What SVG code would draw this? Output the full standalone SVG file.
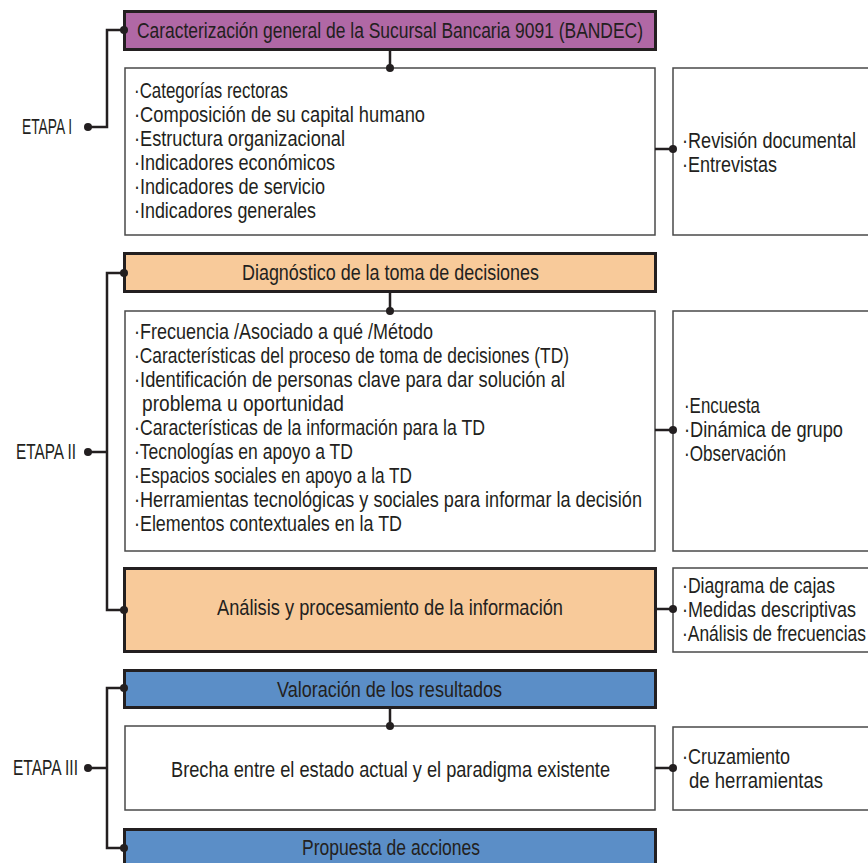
<svg xmlns="http://www.w3.org/2000/svg" width="868" height="863" viewBox="0 0 868 863">
<style>
text{font-family:"Liberation Sans",Arial,sans-serif;font-size:21.5px;fill:#231f20}
.h{stroke:#231f20;stroke-width:3}
.b{fill:#fff;stroke:#4a4a4a;stroke-width:1.5}
.p{fill:#b068a5}.o{fill:#f8ca9a}.u{fill:#5b8ec7}
.c{fill:none;stroke:#231f20;stroke-width:2.5}
.d{fill:#231f20}
</style>
<rect width="868" height="863" fill="#fff"/>
<g id="etapa1"><text x="22" y="134" textLength="50" lengthAdjust="spacingAndGlyphs">ETAPA I</text></g>
<g id="etapa2"><text x="16" y="459" textLength="60" lengthAdjust="spacingAndGlyphs">ETAPA II</text></g>
<g id="etapa3"><text x="13" y="775" textLength="65" lengthAdjust="spacingAndGlyphs">ETAPA III</text></g>
<g id="n1"><rect class="h p" x="124.5" y="11.5" width="531" height="38"/>
<text x="137" y="38" textLength="506" lengthAdjust="spacingAndGlyphs">Caracterización general de la Sucursal Bancaria 9091 (BANDEC)</text></g>
<g id="n2"><rect class="b" x="125" y="68" width="530" height="167"/>
<text x="134" y="98" textLength="154" lengthAdjust="spacingAndGlyphs">·Categorías rectoras</text>
<text x="134" y="122" textLength="291" lengthAdjust="spacingAndGlyphs">·Composición de su capital humano</text>
<text x="134" y="146" textLength="211" lengthAdjust="spacingAndGlyphs">·Estructura organizacional</text>
<text x="134" y="170" textLength="201" lengthAdjust="spacingAndGlyphs">·Indicadores económicos</text>
<text x="134" y="194" textLength="191" lengthAdjust="spacingAndGlyphs">·Indicadores de servicio</text>
<text x="134" y="218" textLength="182" lengthAdjust="spacingAndGlyphs">·Indicadores generales</text></g>
<g id="n3"><rect class="b" x="673" y="68" width="200" height="167"/>
<text x="682" y="148" textLength="174" lengthAdjust="spacingAndGlyphs">·Revisión documental</text>
<text x="682" y="172" textLength="95" lengthAdjust="spacingAndGlyphs">·Entrevistas</text></g>
<g id="n4"><rect class="h o" x="124.5" y="253.5" width="531" height="38"/>
<text x="242" y="280" textLength="297" lengthAdjust="spacingAndGlyphs">Diagnóstico de la toma de decisiones</text></g>
<g id="n5"><rect class="b" x="125" y="311" width="530" height="240"/>
<text x="134" y="339" textLength="299" lengthAdjust="spacingAndGlyphs">·Frecuencia /Asociado a qué /Método</text>
<text x="134" y="363" textLength="435" lengthAdjust="spacingAndGlyphs">·Características del proceso de toma de decisiones (TD)</text>
<text x="134" y="387" textLength="431" lengthAdjust="spacingAndGlyphs">·Identificación de personas clave para dar solución al</text>
<text x="142" y="411" textLength="202" lengthAdjust="spacingAndGlyphs">problema u oportunidad</text>
<text x="134" y="435" textLength="351" lengthAdjust="spacingAndGlyphs">·Características de la información para la TD</text>
<text x="134" y="459" textLength="219" lengthAdjust="spacingAndGlyphs">·Tecnologías en apoyo a TD</text>
<text x="134" y="483" textLength="278" lengthAdjust="spacingAndGlyphs">·Espacios sociales en apoyo a la TD</text>
<text x="134" y="507" textLength="508" lengthAdjust="spacingAndGlyphs">·Herramientas tecnológicas y sociales para informar la decisión</text>
<text x="134" y="531" textLength="268" lengthAdjust="spacingAndGlyphs">·Elementos contextuales en la TD</text></g>
<g id="n6"><rect class="b" x="673" y="311" width="200" height="240"/>
<text x="684" y="413" textLength="76" lengthAdjust="spacingAndGlyphs">·Encuesta</text>
<text x="684" y="437" textLength="159" lengthAdjust="spacingAndGlyphs">·Dinámica de grupo</text>
<text x="684" y="461" textLength="102" lengthAdjust="spacingAndGlyphs">·Observación</text></g>
<g id="n7"><rect class="h o" x="124.5" y="568.5" width="531" height="83"/>
<text x="217" y="615" textLength="346" lengthAdjust="spacingAndGlyphs">Análisis y procesamiento de la información</text></g>
<g id="n8"><rect class="b" x="673" y="568" width="200" height="84"/>
<text x="682" y="593" textLength="153" lengthAdjust="spacingAndGlyphs">·Diagrama de cajas</text>
<text x="682" y="617" textLength="174" lengthAdjust="spacingAndGlyphs">·Medidas descriptivas</text>
<text x="682" y="641" textLength="184" lengthAdjust="spacingAndGlyphs">·Análisis de frecuencias</text></g>
<g id="n9"><rect class="h u" x="124.5" y="670.5" width="531" height="37"/>
<text x="277" y="697" textLength="225" lengthAdjust="spacingAndGlyphs">Valoración de los resultados</text></g>
<g id="n10"><rect class="b" x="125" y="726" width="530" height="84"/>
<text x="171" y="777" textLength="439" lengthAdjust="spacingAndGlyphs">Brecha entre el estado actual y el paradigma existente</text></g>
<g id="n11"><rect class="b" x="673" y="727" width="200" height="83"/>
<text x="682" y="764" textLength="108" lengthAdjust="spacingAndGlyphs">·Cruzamiento</text>
<text x="689" y="788" textLength="134" lengthAdjust="spacingAndGlyphs">de herramientas</text></g>
<g id="n12"><rect class="h u" x="124.5" y="829.5" width="531" height="40"/>
<text x="302" y="855" textLength="178" lengthAdjust="spacingAndGlyphs">Propuesta de acciones</text></g>
<g id="connectors">
<path class="c" d="M88 127H107V30H124M390 50V68M655 149H673"/>
<path class="c" d="M88 452H107V273H124M107 452V610H124M390 292V311M655 430H673M655 609H673"/>
<path class="c" d="M88 768H107V688H124M107 768V848H124M390 707V726M655 768H673"/>
<g class="d">
<circle cx="88" cy="127" r="4"/><circle cx="124" cy="30" r="4"/><circle cx="390" cy="68" r="4"/><circle cx="673" cy="149" r="4"/>
<circle cx="88" cy="452" r="4"/><circle cx="124" cy="273" r="4"/><circle cx="124" cy="610" r="4"/><circle cx="390" cy="311" r="4"/><circle cx="673" cy="430" r="4"/><circle cx="673" cy="609" r="4"/>
<circle cx="88" cy="768" r="4"/><circle cx="124" cy="688" r="4"/><circle cx="124" cy="848" r="4"/><circle cx="390" cy="726" r="4"/><circle cx="673" cy="768" r="4"/>
</g>
</g>
</svg>
